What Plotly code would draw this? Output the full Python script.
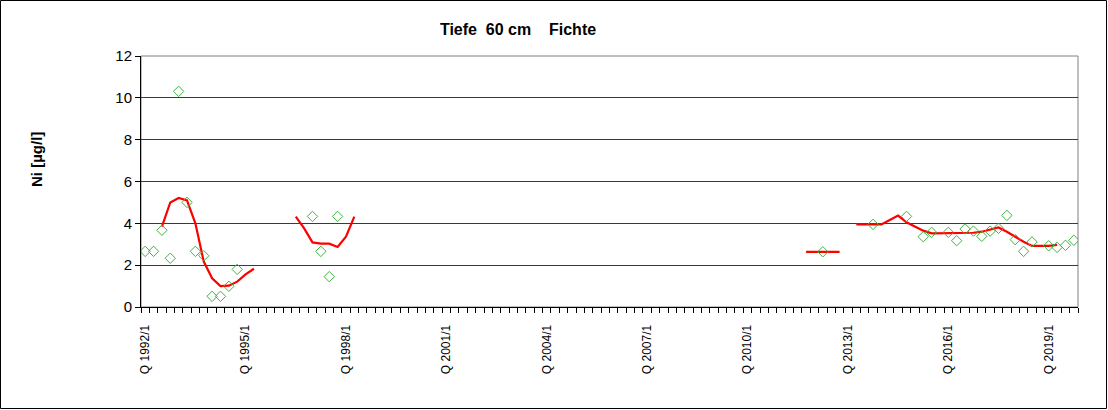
import plotly.graph_objects as go

# Categories: quarters Q 1992/1 ... Q 2019/4
years = list(range(1992, 2020))
quarters = [f"Q {y}/{q}" for y in years for q in range(1, 5)]
tick_labels = [f"Q {y}/1" for y in range(1992, 2020, 3)]

# Measured values (green diamonds)
point_quarters = [
    "Q 1992/1", "Q 1992/2", "Q 1992/3", "Q 1992/4", "Q 1993/1", "Q 1993/2",
    "Q 1993/3", "Q 1993/4", "Q 1994/1", "Q 1994/2", "Q 1994/3", "Q 1994/4",
    "Q 1997/1", "Q 1997/2", "Q 1997/3", "Q 1997/4",
    "Q 2012/2",
    "Q 2013/4", "Q 2014/4", "Q 2015/2", "Q 2015/3", "Q 2016/1", "Q 2016/2",
    "Q 2016/3", "Q 2016/4", "Q 2017/1", "Q 2017/2", "Q 2017/3", "Q 2017/4",
    "Q 2018/1", "Q 2018/2", "Q 2018/3", "Q 2019/1", "Q 2019/2", "Q 2019/3",
    "Q 2019/4",
]
point_values = [
    2.66, 2.66, 3.67, 2.33, 10.31, 5.0,
    2.66, 2.45, 0.51, 0.51, 0.99, 1.80,
    4.33, 2.66, 1.45, 4.33,
    2.64,
    3.95, 4.33, 3.36, 3.57, 3.57, 3.17,
    3.73, 3.63, 3.38, 3.63, 3.76, 4.38,
    3.22, 2.66, 3.11, 2.93, 2.85, 2.95,
    3.19,
]

# Smoothed trend (red line)
trend_quarters = [
    "Q 1992/3", "Q 1992/4", "Q 1993/1", "Q 1993/2", "Q 1993/3", "Q 1993/4",
    "Q 1994/1", "Q 1994/2", "Q 1994/3", "Q 1994/4", "Q 1995/1", "Q 1995/2",
    "Q 1996/3", "Q 1996/4", "Q 1997/1", "Q 1997/2", "Q 1997/3", "Q 1997/4",
    "Q 1998/1", "Q 1998/2",
    "Q 2011/4", "Q 2012/1", "Q 2012/2", "Q 2012/3", "Q 2012/4",
    "Q 2013/2", "Q 2013/3", "Q 2013/4", "Q 2014/1", "Q 2014/2", "Q 2014/3",
    "Q 2014/4", "Q 2015/1", "Q 2015/2", "Q 2015/3", "Q 2015/4", "Q 2016/1",
    "Q 2016/2", "Q 2016/3", "Q 2016/4", "Q 2017/1", "Q 2017/2", "Q 2017/3",
    "Q 2017/4", "Q 2018/1", "Q 2018/2", "Q 2018/3", "Q 2018/4", "Q 2019/1",
    "Q 2019/2",
]
trend_values = [
    3.84, 5.00, 5.21, 5.10, 4.00, 2.17,
    1.37, 1.00, 1.02, 1.21, 1.56, 1.83,
    4.32, 3.76, 3.09, 3.03, 3.03, 2.87,
    3.36, 4.32,
    2.64, 2.64, 2.64, 2.64, 2.64,
    3.95, 3.95, 3.95, 3.95, 4.16, 4.37,
    4.05, 3.85, 3.65, 3.52, 3.52, 3.52,
    3.52, 3.52, 3.55, 3.60, 3.70, 3.80,
    3.60, 3.35, 3.12, 2.92, 2.92, 2.92,
    2.97,
]

# Build full series (gaps -> None so segments stay separate)
trend_full = [None] * len(quarters)
for q, v in zip(trend_quarters, trend_values):
    trend_full[quarters.index(q)] = v
x_all = list(range(len(quarters)))
x_points = [quarters.index(q) for q in point_quarters]
tick_pos = [quarters.index(t) for t in tick_labels]

FONT = "Liberation Sans, Arial, sans-serif"

fig = go.Figure()
fig.add_trace(go.Scatter(
    x=x_all, y=trend_full, mode="lines", connectgaps=False,
    line=dict(color="#FF0000", width=2.2), hoverinfo="skip", showlegend=False,
))
fig.add_trace(go.Scatter(
    x=x_points, y=point_values, mode="markers",
    marker=dict(symbol="diamond-open", size=8, color="#3DB43D",
                line=dict(width=1, color="#3DB43D")),
    showlegend=False,
))

W, H = 1108, 410
L, R, T, B = 141, 30, 56, 103
pw, ph = W - L - R, H - T - B

def px_x(p):
    return (p - L) / pw

def px_y(p):
    return (H - B - p) / ph

fig.update_layout(
    width=W, height=H,
    margin=dict(l=L, r=R, t=T, b=B, pad=0),
    paper_bgcolor="white", plot_bgcolor="white",
    font=dict(family=FONT, color="black"),
    title=dict(text="Tiefe\u00a0\u00a060 cm\u00a0\u00a0\u00a0\u00a0Fichte",
               x=518 / W, xref="container", xanchor="center",
               y=1 - 29 / H, yref="container", yanchor="middle",
               font=dict(size=16, family=FONT, color="black", weight="bold")),
    xaxis=dict(
        range=[-0.5, len(quarters) - 0.5],
        tickmode="array", tickvals=tick_pos, ticktext=tick_labels,
        tickangle=-90, ticks="", showgrid=False, zeroline=False,
        showline=True, linecolor="black", linewidth=1,
        tickfont=dict(size=12, family=FONT, color="black"),
        ticklabelstandoff=12,
        minor=dict(tick0=-0.5, dtick=1, ticks="outside", ticklen=5,
                   tickcolor="black", tickwidth=1, showgrid=False),
    ),
    yaxis=dict(
        range=[0, 12], dtick=2, tick0=0,
        ticks="outside", ticklen=5, tickcolor="black",
        showgrid=True, gridcolor="#3a3a3a", gridwidth=1,
        zeroline=False, showline=True, linecolor="black", linewidth=1,
        tickfont=dict(size=15, family=FONT, color="black"),
    ),
    annotations=[dict(
        text="<b>Ni [µg/l]</b>", textangle=-90,
        xref="paper", yref="paper", x=px_x(36), y=px_y(160),
        xanchor="center", yanchor="middle", showarrow=False,
        font=dict(size=15, family=FONT, color="black"),
    )],
    shapes=[
        dict(type="rect", xref="paper", yref="paper", x0=0, x1=1, y0=0, y1=1,
             line=dict(color="#808080", width=1), layer="below"),
        dict(type="rect", xref="paper", yref="paper",
             x0=px_x(0.5), x1=px_x(W - 1.5), y0=px_y(H - 1.5), y1=px_y(0.5),
             line=dict(color="black", width=1), fillcolor="rgba(0,0,0,0)"),
    ],
)

fig.write_html(
    "out.html",
    config={"displayModeBar": False},
    post_script="document.body.style.margin='0px';document.body.style.padding='0px';",
)
